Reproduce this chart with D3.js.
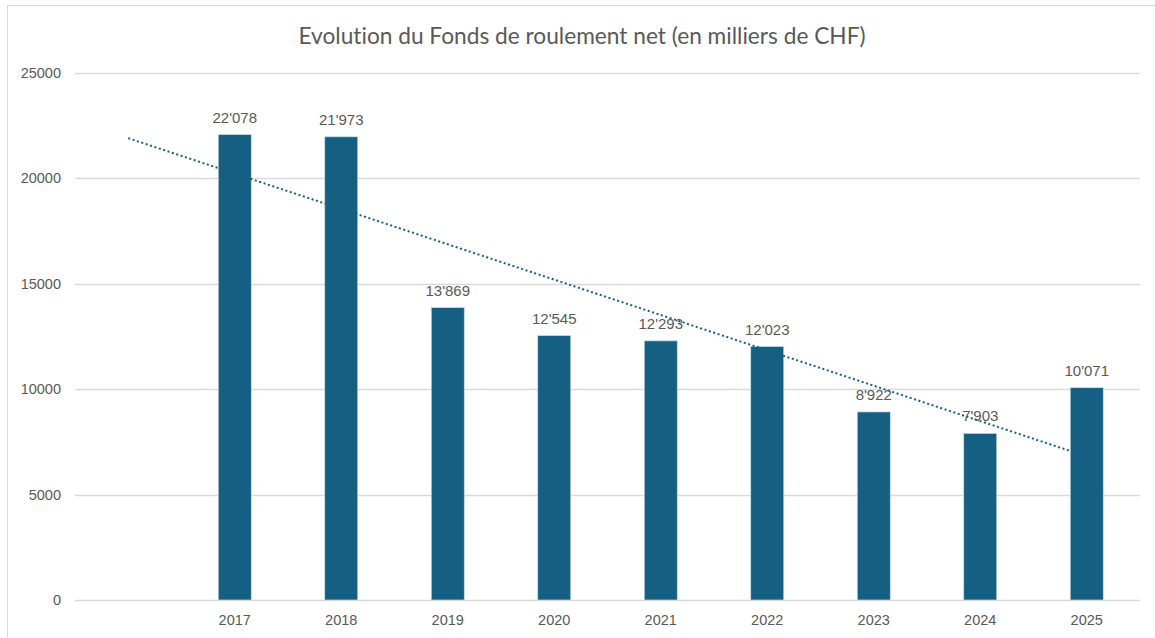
<!DOCTYPE html>
<html>
<head>
<meta charset="utf-8">
<script src="https://cdn.jsdelivr.net/npm/d3@7"></script>
<style>
  body { margin: 0; background: #fff; }
  svg text { font-family: "Liberation Sans", Arial, sans-serif; font-variant-ligatures: none; }
</style>
</head>
<body>
<div id="vis"></div>
<script>
// categories (first slot is empty in the source workbook)
var years = ["", "2017", "2018", "2019", "2020", "2021", "2022", "2023", "2024", "2025"];
var values = [null, 22078, 21973, 13869, 12545, 12293, 12023, 8922, 7903, 10071];
var yTicks = [0, 5000, 10000, 15000, 20000, 25000];
var title = "Evolution du Fonds de roulement net (en milliers de CHF)";

var W = 1155, H = 638;
var margin = { top: 73, right: 15, bottom: 38, left: 75 };
var width = W - margin.left - margin.right;
var height = H - margin.top - margin.bottom;

var svg = d3.select("#vis").append("svg")
  .attr("width", W).attr("height", H);

// chart frame
svg.append("rect")
  .attr("x", 7.5).attr("y", 5.5)
  .attr("width", W).attr("height", H)
  .attr("fill", "none").attr("stroke", "#d9d9d9");

svg.append("text")
  .attr("x", 582).attr("y", 44)
  .attr("text-anchor", "middle")
  .attr("fill", "#595959")
  .style("font-family", "Lato, sans-serif")
  .style("font-size", "22.7px")
  .text(title);

var g = svg.append("g").attr("transform", `translate(${margin.left}, ${margin.top})`);

var x = d3.scaleBand().domain(years.map((d, i) => i)).range([0, width]).paddingInner(0.69).paddingOuter(0.345);
var xc = d3.scaleBand().domain(years.map((d, i) => i)).range([0, width]);
var y = d3.scaleLinear().domain([0, 25000]).range([height, 0]);

// gridlines
g.append("g").selectAll("line").data(yTicks).join("line")
  .attr("x1", 0).attr("x2", width)
  .attr("y1", d => Math.round(y(d)) + 0.5).attr("y2", d => Math.round(y(d)) + 0.5)
  .attr("stroke", "#d9d9d9").attr("stroke-width", 1.3);

// y labels
g.append("g").selectAll("text").data(yTicks).join("text")
  .attr("x", -14).attr("y", d => y(d) + 5)
  .attr("text-anchor", "end")
  .attr("fill", "#595959").style("font-size", "14.5px")
  .text(d => d);

// x labels
g.append("g").selectAll("text").data(years).join("text")
  .attr("x", (d, i) => xc(i) + xc.bandwidth() / 2)
  .attr("y", height + 25)
  .attr("text-anchor", "middle")
  .attr("fill", "#595959").style("font-size", "14.5px")
  .text(d => d);

var data = values.map((v, i) => ({ i: i, v: v })).filter(d => d.v != null);

// bars
g.append("g").selectAll("rect").data(data).join("rect")
  .attr("x", d => x(d.i))
  .attr("y", d => y(d.v))
  .attr("width", x.bandwidth())
  .attr("height", d => height - y(d.v))
  .attr("fill", "#156082")
  .attr("stroke", "#c9dbe4").attr("stroke-width", 0.7);

// linear trendline (least squares, like Excel), over category positions 1..n
var mx = d3.mean(data, d => d.i + 1), my = d3.mean(data, d => d.v);
var slope = d3.sum(data, d => (d.i + 1 - mx) * (d.v - my)) / d3.sum(data, d => (d.i + 1 - mx) ** 2);
var icpt = my - slope * mx;
var trend = [1, years.length].map(k => ({ i: k - 1, v: icpt + slope * k }));
g.append("path")
  .datum(trend)
  .attr("d", d3.line().x(d => xc(d.i) + xc.bandwidth() / 2).y(d => y(d.v)))
  .attr("fill", "none")
  .attr("stroke", "#156082").attr("stroke-width", 2)
  .attr("stroke-dasharray", "2 2.6");

// data labels
g.append("g").selectAll("text").data(data).join("text")
  .attr("x", d => xc(d.i) + xc.bandwidth() / 2)
  .attr("y", d => y(d.v) - 12)
  .attr("text-anchor", "middle")
  .attr("fill", "#595959").style("font-size", "15px")
  .text(d => d3.format(",")(d.v).replace(",", "'"));
</script>
</body>
</html>
